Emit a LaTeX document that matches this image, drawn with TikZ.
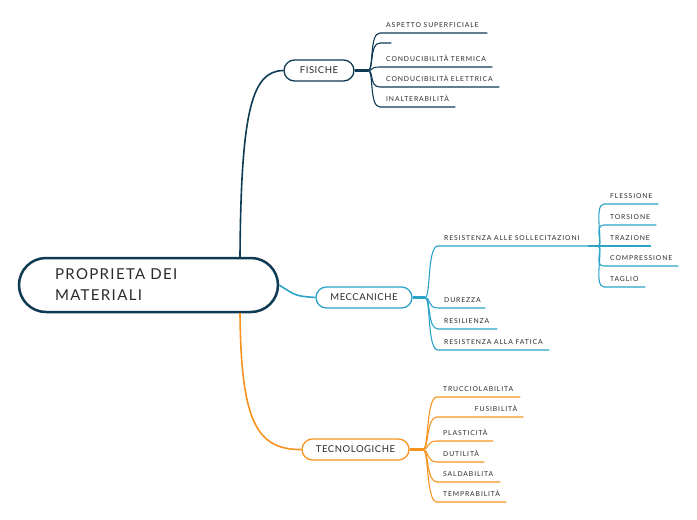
\documentclass[tikz,border=0pt]{standalone}
\usepackage{fontspec}
\setmainfont{Lato}
\newfontfamily\leaffont[LetterSpace=13]{Lato}
\newfontfamily\topicfont[LetterSpace=6]{Lato}
\newfontfamily\rootfont[LetterSpace=9]{Lato}
\usetikzlibrary{calc}
\definecolor{navyc}{HTML}{0E3A53}
\definecolor{tealc}{HTML}{2BA3C8}
\definecolor{orangec}{HTML}{F7931E}
\definecolor{textc}{HTML}{2A2A2A}
\newcommand\leafbox[2]{\makebox[#1pt][l]{#2}}
\newcommand\leafboxr[2]{\makebox[#1pt][r]{#2}}
\begin{document}
\begin{tikzpicture}[x=1pt,y=-1pt,
  rootbox/.style={draw=navyc, line width=2.5pt, fill=white, rounded corners=27pt,
    minimum width=259pt, minimum height=54pt, inner xsep=36pt, text width=187pt,
    align=left, font=\rootfont\fontsize{15}{21}\selectfont, text=textc},
  topic/.style={draw=#1, line width=1.3pt, fill=white, rounded corners=10.5pt,
    minimum height=21pt, inner sep=0pt, font=\topicfont\fontsize{9.5}{11}\selectfont, text=textc},
  leaf/.style={anchor=south west, inner xsep=6pt, inner ysep=5.5pt, text height=5pt, text depth=0pt,
    font=\leaffont\fontsize{6.8}{7}\selectfont, text=textc},
  bra/.style={to path={.. controls ([xshift=6pt]\tikztostart) and ([xshift=-11pt]\tikztotarget) .. (\tikztotarget)}},
  conn/.style={line width=1.1pt},
  stub/.style={line width=2.2pt},
]
\useasboundingbox (0,0) rectangle (697,520);

% root and topics
\node[rootbox] (root) at (148.5,285) {PROPRIETA DEI\\MATERIALI};
\node[topic=navyc, minimum width=70pt] (fis) at (319,70.5) {FISICHE};
\node[topic=tealc, minimum width=96pt] (mec) at (364,297.5) {MECCANICHE};
\node[topic=orangec, minimum width=107pt] (tec) at (355.5,449.5) {TECNOLOGICHE};

% main connectors
\draw[navyc, line width=1.6pt] ([xshift=91.5pt]root.north) .. controls (241,110) and (252,71) .. (fis.west);
\draw[tealc, line width=1.6pt] (root.east) .. controls (296,296) .. (mec.west);
\draw[orangec, line width=1.6pt] ([xshift=91.5pt]root.south) .. controls (241,420) and (256,450) .. (tec.west);

% branch points
\coordinate (bF) at (368,70.5);
\coordinate (bM) at (425,297.5);
\coordinate (bT) at (423,449.5);
\coordinate (bR) at (598,246);

% FISICHE leaves
\node[leaf] (f1) at (380,33) {\leafbox{95}{ASPETTO SUPERFICIALE}};
\node[anchor=south west, inner sep=0pt, minimum width=11pt, minimum height=6pt] (f0) at (380,43) {};
\node[leaf] (f2) at (380,67) {\leafbox{100}{CONDUCIBILITÀ TERMICA}};
\node[leaf] (f3) at (380,87) {\leafbox{107}{CONDUCIBILITÀ ELETTRICA}};
\node[leaf] (f4) at (380,107) {\leafbox{63}{INALTERABILITÀ}};
\draw[navyc, stub] (fis.east) -- (bF);
\foreach \n in {f1,f0,f2,f3,f4}
  \draw[navyc, conn] (bF) to[bra] (\n.south west) -- (\n.south east);

% MECCANICHE leaves
\node[leaf] (m1) at (438,246) {\leafbox{138}{RESISTENZA ALLE SOLLECITAZIONI}};
\node[leaf] (m2) at (438,308) {\leafbox{35}{DUREZZA}};
\node[leaf] (m3) at (438,329) {\leafbox{47}{RESILIENZA}};
\node[leaf] (m4) at (438,350) {\leafbox{99}{RESISTENZA ALLA FATICA}};
\draw[tealc, stub] (mec.east) -- (bM);
\foreach \n in {m1,m2,m3,m4}
  \draw[tealc, conn] (bM) to[bra] (\n.south west) -- (\n.south east);
\draw[tealc, stub] (m1.south east) -- (bR);

% sub leaves
\node[leaf] (s1) at (604,204) {\leafbox{42}{FLESSIONE}};
\node[leaf] (s2) at (604,225) {\leafbox{40}{TORSIONE}};
\node[leaf] (s3) at (604,246) {\leafbox{35}{TRAZIONE}};
\node[leaf] (s4) at (604,266) {\leafbox{62}{COMPRESSIONE}};
\node[leaf] (s5) at (604,287) {\leafbox{29}{TAGLIO}};
\foreach \n in {s1,s2,s3,s4,s5}
  \draw[tealc, conn] (bR) to[bra] (\n.south west) -- (\n.south east);

% TECNOLOGICHE leaves
\node[leaf] (t1) at (437,397) {\leafbox{71}{TRUCCIOLABILITA}};
\node[leaf] (t2) at (437,417) {\leafboxr{74}{FUSIBILITÀ}};
\node[leaf] (t3) at (437,441) {\leafbox{44}{PLASTICITÀ}};
\node[leaf] (t4) at (437,462) {\leafbox{35}{DUTILITÀ}};
\node[leaf] (t5) at (437,482) {\leafbox{51}{SALDABILITA}};
\node[leaf] (t6) at (437,502) {\leafbox{57}{TEMPRABILITÀ}};
\draw[orangec, stub] (tec.east) -- (bT);
\foreach \n in {t1,t2,t3,t4,t5,t6}
  \draw[orangec, conn] (bT) to[bra] (\n.south west) -- (\n.south east);
\end{tikzpicture}
\end{document}
